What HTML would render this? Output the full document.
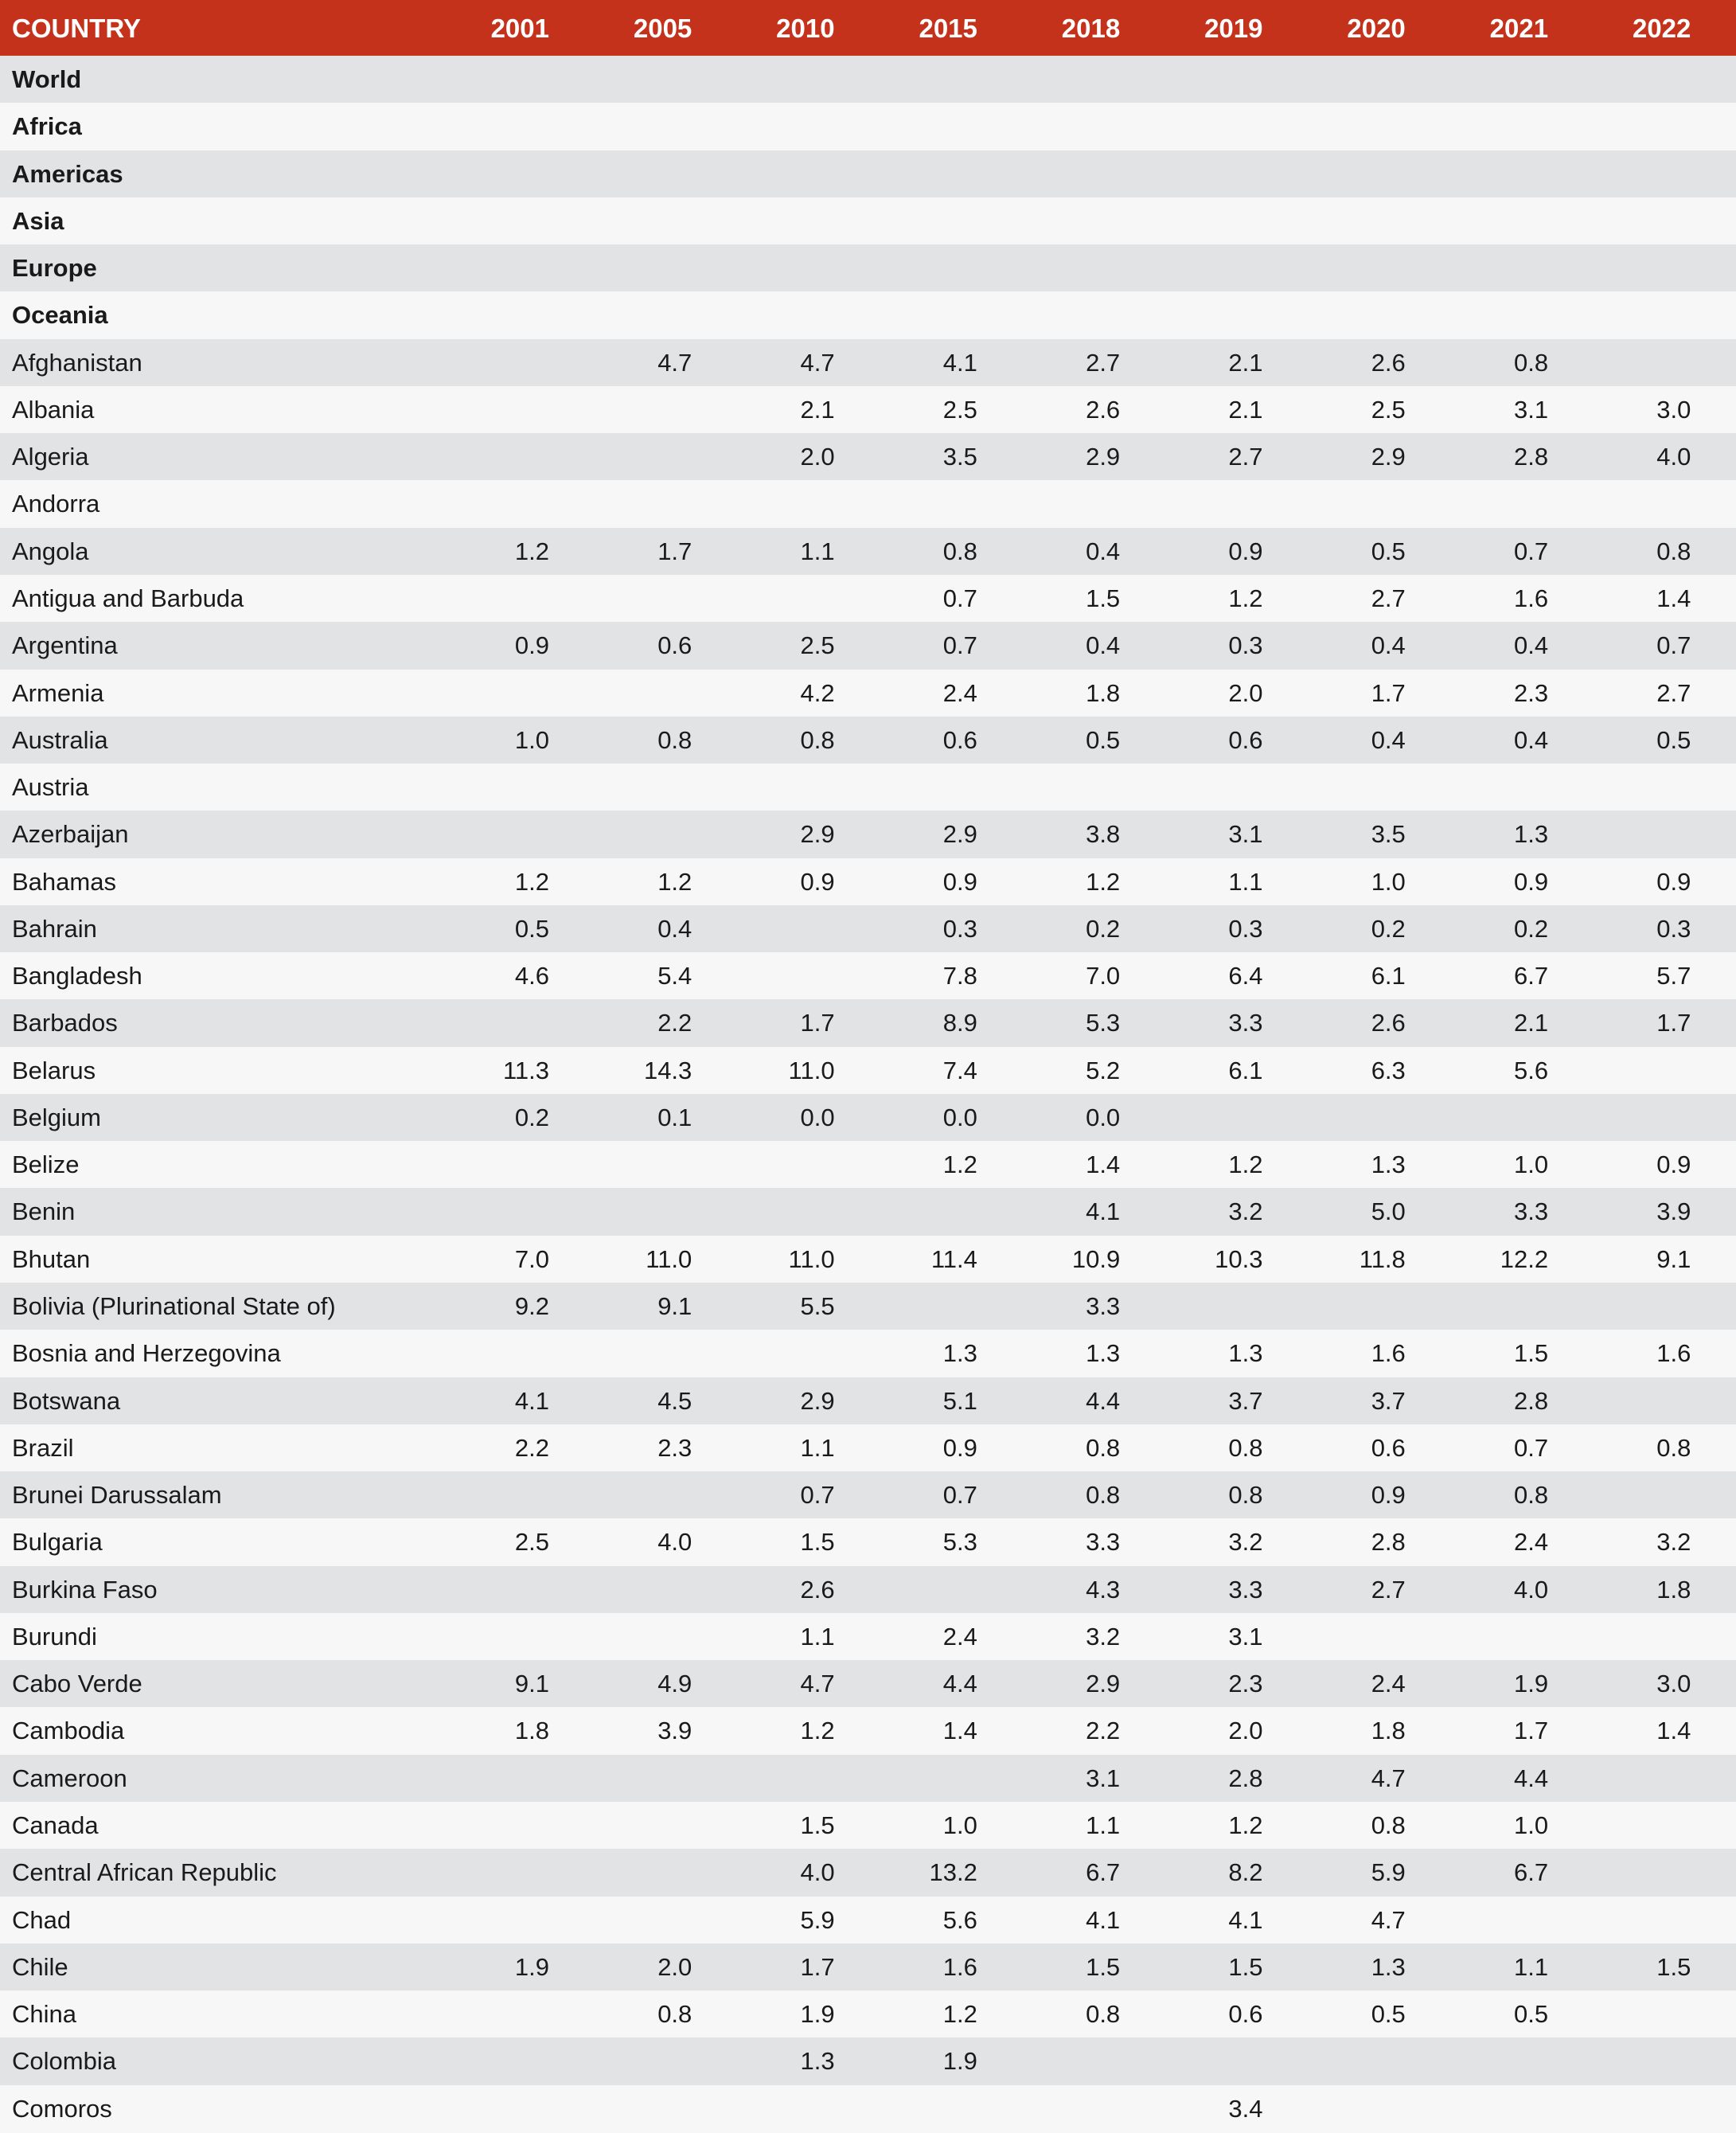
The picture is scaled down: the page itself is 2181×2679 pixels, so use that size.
<!DOCTYPE html>
<html><head><meta charset="utf-8"><style>
body{margin:0;width:2181px;height:2679px;overflow:hidden;background:#f7f7f7;font-family:"Liberation Sans",sans-serif;}
.r{position:absolute;left:0;width:2181px;height:59.27px;}
.h{top:0;height:70px;background:#c4321c;color:#fff;font-weight:bold;}
.c{position:absolute;top:0;line-height:inherit;font-size:31px;white-space:nowrap;}
.h .c{font-size:33px;}
.n{text-align:right;width:150px;}
.a{background:#e2e3e5}.b{background:#f7f7f7}
.bold{font-weight:bold}
</style></head><body>
<div id="t"></div>
<script>
const rows=[
["World"],["Africa"],["Americas"],["Asia"],["Europe"],["Oceania"],
["Afghanistan","","4.7","4.7","4.1","2.7","2.1","2.6","0.8",""],
["Albania","","","2.1","2.5","2.6","2.1","2.5","3.1","3.0"],
["Algeria","","","2.0","3.5","2.9","2.7","2.9","2.8","4.0"],
["Andorra"],
["Angola","1.2","1.7","1.1","0.8","0.4","0.9","0.5","0.7","0.8"],
["Antigua and Barbuda","","","","0.7","1.5","1.2","2.7","1.6","1.4"],
["Argentina","0.9","0.6","2.5","0.7","0.4","0.3","0.4","0.4","0.7"],
["Armenia","","","4.2","2.4","1.8","2.0","1.7","2.3","2.7"],
["Australia","1.0","0.8","0.8","0.6","0.5","0.6","0.4","0.4","0.5"],
["Austria"],
["Azerbaijan","","","2.9","2.9","3.8","3.1","3.5","1.3",""],
["Bahamas","1.2","1.2","0.9","0.9","1.2","1.1","1.0","0.9","0.9"],
["Bahrain","0.5","0.4","","0.3","0.2","0.3","0.2","0.2","0.3"],
["Bangladesh","4.6","5.4","","7.8","7.0","6.4","6.1","6.7","5.7"],
["Barbados","","2.2","1.7","8.9","5.3","3.3","2.6","2.1","1.7"],
["Belarus","11.3","14.3","11.0","7.4","5.2","6.1","6.3","5.6",""],
["Belgium","0.2","0.1","0.0","0.0","0.0","","","",""],
["Belize","","","","1.2","1.4","1.2","1.3","1.0","0.9"],
["Benin","","","","","4.1","3.2","5.0","3.3","3.9"],
["Bhutan","7.0","11.0","11.0","11.4","10.9","10.3","11.8","12.2","9.1"],
["Bolivia (Plurinational State of)","9.2","9.1","5.5","","3.3","","","",""],
["Bosnia and Herzegovina","","","","1.3","1.3","1.3","1.6","1.5","1.6"],
["Botswana","4.1","4.5","2.9","5.1","4.4","3.7","3.7","2.8",""],
["Brazil","2.2","2.3","1.1","0.9","0.8","0.8","0.6","0.7","0.8"],
["Brunei Darussalam","","","0.7","0.7","0.8","0.8","0.9","0.8",""],
["Bulgaria","2.5","4.0","1.5","5.3","3.3","3.2","2.8","2.4","3.2"],
["Burkina Faso","","","2.6","","4.3","3.3","2.7","4.0","1.8"],
["Burundi","","","1.1","2.4","3.2","3.1","","",""],
["Cabo Verde","9.1","4.9","4.7","4.4","2.9","2.3","2.4","1.9","3.0"],
["Cambodia","1.8","3.9","1.2","1.4","2.2","2.0","1.8","1.7","1.4"],
["Cameroon","","","","","3.1","2.8","4.7","4.4",""],
["Canada","","","1.5","1.0","1.1","1.2","0.8","1.0",""],
["Central African Republic","","","4.0","13.2","6.7","8.2","5.9","6.7",""],
["Chad","","","5.9","5.6","4.1","4.1","4.7","",""],
["Chile","1.9","2.0","1.7","1.6","1.5","1.5","1.3","1.1","1.5"],
["China","","0.8","1.9","1.2","0.8","0.6","0.5","0.5",""],
["Colombia","","","1.3","1.9","","","","",""],
["Comoros","","","","","","3.4","","",""]];
const yrs=["2001","2005","2010","2015","2018","2019","2020","2021","2022"];
let h='<div class="r h" style="line-height:72px"><div class="c" style="left:15px">COUNTRY</div>';
yrs.forEach((y,i)=>h+=`<div class="c n" style="left:${690+179.3*i-150}px">${y}</div>`);
h+='</div>';
rows.forEach((r,k)=>{
 const top=70+k*59.27;
 h+=`<div class="r ${k%2?'b':'a'}${k<6?' bold':''}" style="top:${top}px;line-height:60px;color:#1a1a1a"><div class="c" style="left:15px">${r[0]}</div>`;
 for(let i=1;i<r.length;i++) if(r[i]) h+=`<div class="c n" style="left:${690+179.3*(i-1)-150}px">${r[i]}</div>`;
 h+='</div>';
});
document.getElementById('t').innerHTML=h;
</script>
</body></html>
